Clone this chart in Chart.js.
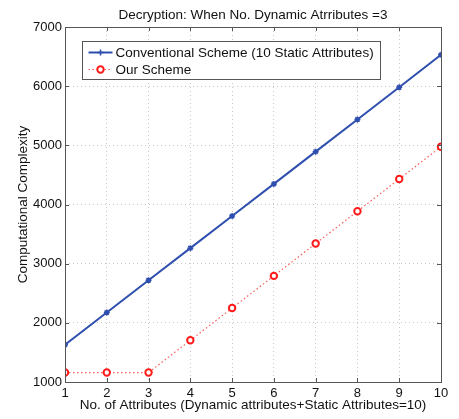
<!DOCTYPE html>
<html lang="en">
<head>
  <meta charset="UTF-8">
  <title>Decryption: When No. Dynamic Atrributes =3</title>
  <script src="https://cdn.jsdelivr.net/npm/chart.js"></script>
  <style>
    html, body { margin: 0; padding: 0; background: #fff; }
    #wrap { width: 459px; height: 419px; }
  </style>
</head>
<body>
  <div id="wrap"><canvas id="chart"></canvas></div>

  <script>
    const attributes = [1, 2, 3, 4, 5, 6, 7, 8, 9, 10];
    const conventional = [1630, 2175, 2720, 3262, 3805, 4348, 4893, 5437, 5981, 6530];
    const ourScheme = [1160, 1160, 1160, 1705, 2250, 2794, 3340, 3885, 4431, 4975];
    const seriesNames = ['Conventional Scheme (10 Static Attributes)', 'Our Scheme'];
    const chartTitle = 'Decryption: When No. Dynamic Atrributes =3';

    const FONT = '"Liberation Sans", Arial, Helvetica, sans-serif';
    const BLUE = '#2f4fae';
    const RED = '#ff1a1a';

    // title over the plot, legend box inside it, full axes box with inward ticks (matlab look)
    const boxPlugin = {
      id: 'boxPlugin',
      afterDraw(chart) {
        const { ctx, chartArea: a, scales } = chart;
        ctx.save();

        ctx.font = '13.5px ' + FONT;
        ctx.fillStyle = '#111';
        ctx.textAlign = 'center';
        ctx.textBaseline = 'middle';
        ctx.fillText(chartTitle, (a.left + a.right) / 2, 15);
        ctx.textAlign = 'left';

        ctx.strokeStyle = '#555';
        ctx.lineWidth = 1;
        ctx.beginPath();
        scales.x.ticks.forEach(t => {
          const px = Math.round(scales.x.getPixelForValue(t.value)) + 0.5;
          ctx.moveTo(px, a.bottom); ctx.lineTo(px, a.bottom - 4);
          ctx.moveTo(px, a.top); ctx.lineTo(px, a.top + 4);
        });
        scales.y.ticks.forEach(t => {
          const py = Math.round(scales.y.getPixelForValue(t.value)) + 0.5;
          ctx.moveTo(a.left, py); ctx.lineTo(a.left + 4, py);
          ctx.moveTo(a.right, py); ctx.lineTo(a.right - 4, py);
        });
        ctx.stroke();
        ctx.strokeRect(Math.round(a.left) + 0.5, Math.round(a.top) + 0.5,
                       Math.round(a.right - a.left), Math.round(a.bottom - a.top));

        // legend
        const lx = Math.round(a.left) + 17.5, ly = Math.round(a.top) + 14.5;
        const lw = 298, lh = 38;
        ctx.fillStyle = '#fff';
        ctx.fillRect(lx, ly, lw, lh);
        ctx.strokeStyle = '#555';
        ctx.strokeRect(lx, ly, lw, lh);
        chart.data.datasets.forEach((ds, i) => {
          const y = ly + 11 + i * 17;
          ctx.save();
          ctx.strokeStyle = ds.borderColor;
          ctx.lineWidth = ds.borderWidth;
          ctx.setLineDash(ds.borderDash || []);
          ctx.beginPath();
          ctx.moveTo(lx + 6, y); ctx.lineTo(lx + 30, y);
          ctx.stroke();
          ctx.restore();
          ctx.save();
          ctx.strokeStyle = ds.pointBorderColor;
          ctx.fillStyle = ds.pointBackgroundColor;
          ctx.lineWidth = ds.pointBorderWidth;
          ctx.beginPath();
          if (ds.pointStyle === 'circle') {
            ctx.arc(lx + 18, y, ds.pointRadius, 0, Math.PI * 2);
            ctx.fill();
          } else {
            const r = ds.pointRadius;
            ctx.moveTo(lx + 18 - r, y); ctx.lineTo(lx + 18 + r, y);
            ctx.moveTo(lx + 18, y - r); ctx.lineTo(lx + 18, y + r);
          }
          ctx.stroke();
          ctx.restore();
          ctx.fillStyle = '#111';
          ctx.textBaseline = 'middle';
          ctx.fillText(ds.label, lx + 33, y + 1);
        });
        ctx.restore();
      }
    };

    const ctx = document.getElementById('chart').getContext('2d');
    const chart = new Chart(ctx, {
      type: 'line',
      data: {
        datasets: [
          {
            label: seriesNames[0],
            data: attributes.map((x, i) => ({ x, y: conventional[i] })),
            borderColor: BLUE,
            borderWidth: 2,
            pointStyle: 'star',
            pointRadius: 3,
            pointBorderWidth: 1.5,
            pointBorderColor: BLUE,
            pointBackgroundColor: BLUE
          },
          {
            label: seriesNames[1],
            data: attributes.map((x, i) => ({ x, y: ourScheme[i] })),
            borderColor: '#ff5a5a',
            borderWidth: 1.2,
            borderDash: [1.5, 2.5],
            pointStyle: 'circle',
            pointRadius: 3.2,
            pointBorderWidth: 2,
            pointBorderColor: RED,
            pointBackgroundColor: '#fff'
          }
        ]
      },
      options: {
        responsive: true,
        maintainAspectRatio: false,
        animation: false,
        layout: { padding: { left: 0, right: 18, top: 27, bottom: 0 } },
        plugins: {
          legend: { display: false },
          tooltip: { enabled: false }
        },
        scales: {
          x: {
            type: 'linear',
            min: 1,
            max: 10,
            afterFit(scale) { scale.height = 37; },
            ticks: {
              stepSize: 1,
              padding: 4,
              color: '#111',
              font: { family: FONT, size: 13 },
              callback: v => String(v)
            },
            grid: { color: '#c8c8c8', drawTicks: false, lineWidth: 1 },
            border: { display: false, dash: [1, 3] },
            title: {
              display: true,
              text: 'No. of Attributes (Dynamic attributes+Static Attributes=10)',
              color: '#111',
              font: { family: FONT, size: 13.5 },
              padding: { top: 0, bottom: 6 }
            }
          },
          y: {
            min: 1000,
            max: 7000,
            afterFit(scale) { scale.width = 65; },
            ticks: {
              stepSize: 1000,
              padding: 3,
              color: '#111',
              font: { family: FONT, size: 13 },
              callback: v => String(v)
            },
            grid: { color: '#c8c8c8', drawTicks: false, lineWidth: 1 },
            border: { display: false, dash: [1, 3] },
            title: {
              display: true,
              text: 'Computational Complexity',
              color: '#111',
              font: { family: FONT, size: 13.5 },
              padding: { top: 15, bottom: 0 }
            }
          }
        }
      },
      plugins: [boxPlugin]
    });
  </script>
</body>
</html>
